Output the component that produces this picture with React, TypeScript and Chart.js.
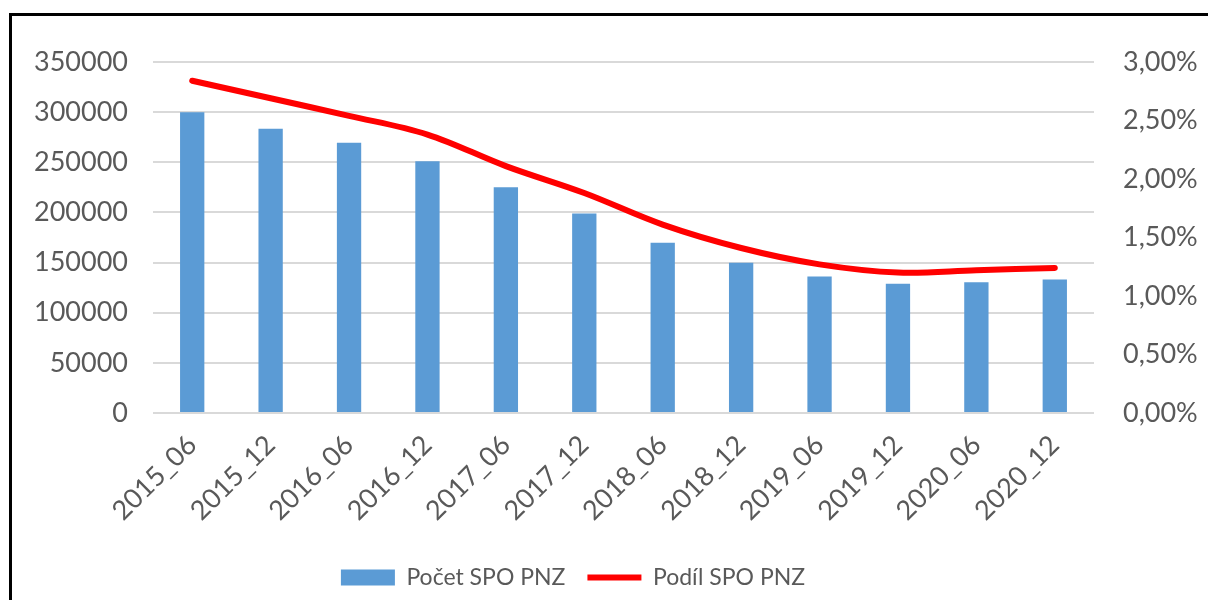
import React, { useEffect, useRef } from "react";
import { Chart, registerables } from "chart.js";

Chart.register(...registerables);

const categories = [
  "2015_06", "2015_12", "2016_06", "2016_12", "2017_06", "2017_12",
  "2018_06", "2018_12", "2019_06", "2019_12", "2020_06", "2020_12",
];
const pocetSpoPnz = [
  300000, 283500, 269500, 251000, 225000, 199000,
  169800, 149800, 136000, 128800, 130300, 133000,
];
const podilSpoPnz = [
  2.84, 2.69, 2.54, 2.38, 2.11, 1.88,
  1.61, 1.41, 1.27, 1.20, 1.22, 1.24,
];
const leftTicks = { min: 0, max: 350000, step: 50000 };
const rightTicks = { min: 0, max: 3, step: 0.5 };

const FONT = "Lato, 'Open Sans', sans-serif";
const TEXT = "#595959";
const GRID = "#d9d9d9";
const FS = 27;
const LEGEND_FS = 23;

const legendShift = {
  id: "legendShift",
  afterLayout(chart: any) {
    const lg = chart.legend;
    if (lg) {
      lg.left -= 31;
      lg.right -= 31;
    }
  },
};

export default function App() {
  const ref = useRef<HTMLCanvasElement | null>(null);

  useEffect(() => {
    document.body.style.margin = "0";
    const ctx = ref.current!.getContext("2d")!;
    const chart = new Chart(ctx, {
      type: "bar",
      data: {
        labels: categories,
        datasets: [
          {
            type: "bar",
            label: "Počet SPO PNZ",
            data: pocetSpoPnz,
            backgroundColor: "#5b9bd5",
            borderWidth: 0,
            barPercentage: 0.31,
            categoryPercentage: 1,
            yAxisID: "y",
            order: 1,
            pointStyle: "rect",
          } as any,
          {
            type: "line",
            label: "Podíl SPO PNZ",
            data: podilSpoPnz,
            borderColor: "#ff0000",
            backgroundColor: "#ff0000",
            borderWidth: 6,
            borderCapStyle: "round",
            borderJoinStyle: "round",
            pointRadius: 0,
            pointHoverRadius: 0,
            tension: 0.35,
            yAxisID: "y1",
            order: 0,
            pointStyle: "line",
          } as any,
        ],
      },
      plugins: [legendShift],
      options: {
        animation: false,
        responsive: false,
        maintainAspectRatio: false,
        layout: { padding: { top: 62, left: 0, right: 0, bottom: 1 } },
        plugins: {
          tooltip: { enabled: false },
          legend: {
            display: true,
            position: "bottom",
            labels: {
              usePointStyle: true,
              pointStyleWidth: 54,
              boxHeight: 16,
              padding: 22,
              color: TEXT,
              font: { family: FONT, size: LEGEND_FS },
              sort: (a: any, b: any) => a.datasetIndex - b.datasetIndex,
            },
          },
        },
        scales: {
          x: {
            grid: { display: false },
            border: { display: false },
            ticks: {
              color: TEXT,
              font: { family: FONT, size: FS },
              maxRotation: 45,
              minRotation: 45,
              padding: 8,
              autoSkip: false,
            },
            afterFit: (s: any) => {
              s.height = 131;
            },
          },
          y: {
            position: "left",
            min: leftTicks.min,
            max: leftTicks.max,
            grid: { color: GRID, lineWidth: 2, drawTicks: false },
            border: { display: false },
            ticks: {
              stepSize: leftTicks.step,
              color: TEXT,
              font: { family: FONT, size: FS },
              padding: 25,
              callback: (v: any) => String(v),
            },
            afterFit: (s: any) => {
              s.width = 153;
            },
          },
          y1: {
            position: "right",
            min: rightTicks.min,
            max: rightTicks.max,
            grid: { display: false, drawTicks: false },
            border: { display: false },
            ticks: {
              stepSize: rightTicks.step,
              color: TEXT,
              font: { family: FONT, size: FS },
              padding: 29,
              callback: (v: any) => Number(v).toFixed(2).replace(".", ",") + "%",
            },
            afterFit: (s: any) => {
              s.width = 114;
            },
          },
        },
      } as any,
    });
    return () => chart.destroy();
  }, []);

  return (
    <div style={{ position: "relative", width: 1208, height: 600, background: "#fff", overflow: "hidden" }}>
      <div
        style={{
          position: "absolute",
          left: 9,
          top: 13,
          right: -10,
          bottom: -10,
          borderLeft: "3px solid #000",
          borderTop: "3px solid #000",
        }}
      />
      <canvas ref={ref} width={1208} height={600} style={{ position: "absolute", left: 0, top: 0 }} />
    </div>
  );
}
